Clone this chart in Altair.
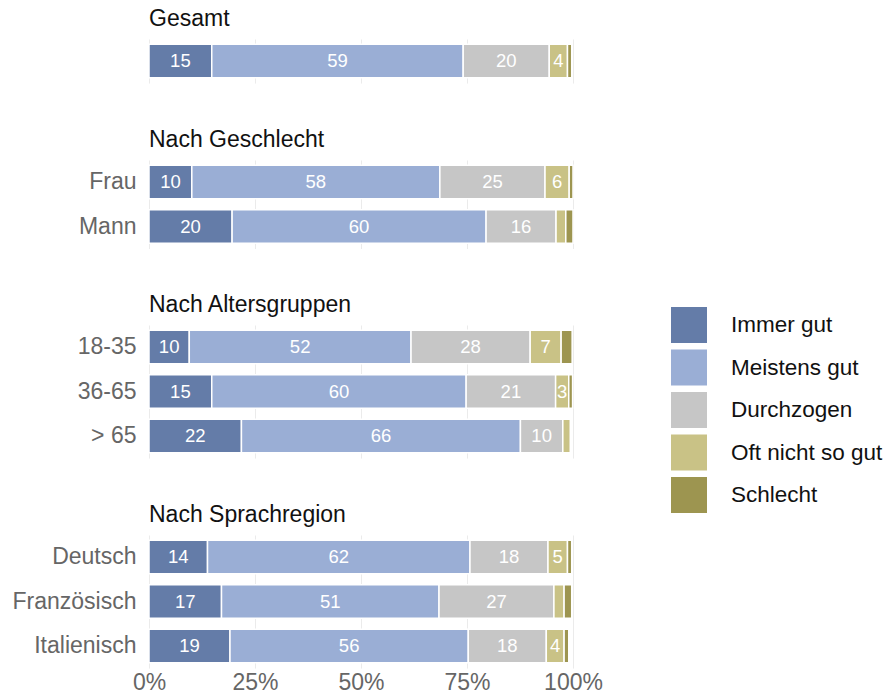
import altair as alt
import pandas as pd

FONT = "Liberation Sans"

responses = ["Immer gut", "Meistens gut", "Durchzogen", "Oft nicht so gut", "Schlecht"]
colors = ["#647ca8", "#9aaed5", "#c6c6c6", "#c9c286", "#9d9550"]

sections = ["Gesamt", "Nach Geschlecht", "Nach Altersgruppen", "Nach Sprachregion"]
section_rows = [
    ["Gesamt"],
    ["Frau", "Mann"],
    ["18-35", "36-65", "> 65"],
    ["Deutsch", "Französisch", "Italienisch"],
]

immer_gut = {"Gesamt": 14.8, "Frau": 10.1, "Mann": 19.6, "18-35": 9.5, "36-65": 14.8, "> 65": 21.8,
             "Deutsch": 13.8, "Französisch": 17.1, "Italienisch": 19.1}
meistens_gut = {"Gesamt": 59.3, "Frau": 58.5, "Mann": 59.9, "18-35": 52.3, "36-65": 60.0, "> 65": 65.8,
                "Deutsch": 61.9, "Französisch": 51.3, "Italienisch": 56.2}
durchzogen = {"Gesamt": 20.3, "Frau": 24.8, "Mann": 16.5, "18-35": 28.1, "36-65": 21.1, "> 65": 10.0,
              "Deutsch": 18.4, "Französisch": 27.1, "Italienisch": 18.4}
oft_nicht = {"Gesamt": 4.3, "Frau": 5.7, "Mann": 2.3, "18-35": 7.3, "36-65": 3.1, "> 65": 1.8,
             "Deutsch": 4.6, "Französisch": 2.4, "Italienisch": 4.2}
schlecht = {"Gesamt": 1.0, "Frau": 0.9, "Mann": 1.7, "18-35": 2.6, "36-65": 0.9, "> 65": 0.3,
            "Deutsch": 1.0, "Französisch": 1.8, "Italienisch": 1.1}

series = [immer_gut, meistens_gut, durchzogen, oft_nicht, schlecht]

records = []
for s, rows in zip(sections, section_rows):
    for r in rows:
        for i, (resp, d) in enumerate(zip(responses, series)):
            v = d[r]
            lbl = str(int(round(v))) if v >= 2.8 else ""
            records.append({"section": s, "row": r, "response": resp, "rank": i,
                            "value": v, "label": lbl})
df = pd.DataFrame(records)

color_scale = alt.Scale(domain=responses, range=colors)


def panel(sec, rows, last):
    d = df[df.section == sec]
    base = alt.Chart(d).transform_stack(
        stack="value", groupby=["row"], sort=[alt.SortField("rank")], as_=["x0", "x1"]
    ).transform_calculate(mid="(datum.x0 + datum.x1) / 2")

    if last:
        xaxis = alt.Axis(values=[0, 25, 50, 75, 100], labelExpr="datum.value + '%'",
                         labelFontSize=23, labelColor="#666666", labelFont=FONT,
                         labelFlush=False, labelOverlap=False,
                         ticks=False, domain=False, grid=True, gridColor="#ebebeb",
                         labelPadding=3, title=None)
    else:
        xaxis = alt.Axis(values=[0, 25, 50, 75, 100], labels=False, ticks=False, domain=False,
                         grid=True, gridColor="#ebebeb", title=None)

    xs = alt.Scale(domain=[0, 100], nice=False, zero=True)
    ys = alt.Scale(domain=rows, paddingInner=0.25, paddingOuter=0.12)
    yaxis = alt.Axis(title=None, ticks=False, domain=False, labelFontSize=23, labelColor="#666666",
                     labelFont=FONT, labelPadding=13, labels=(sec != "Gesamt"))

    bars = base.mark_bar(stroke="white", strokeWidth=1.5).encode(
        x=alt.X("x0:Q", scale=xs, axis=xaxis),
        x2="x1:Q",
        y=alt.Y("row:N", scale=ys, axis=yaxis, sort=rows),
        color=alt.Color("response:N", scale=color_scale,
                        legend=alt.Legend(title=None, symbolType="square", symbolSize=1296,
                                          symbolStrokeWidth=0, labelFontSize=22.5, labelFont=FONT,
                                          labelColor="#111111", rowPadding=6.5, labelOffset=24,
                                          orient="none", legendX=522, legendY=268)),
    )
    text = base.mark_text(color="white", fontSize=18.5, font=FONT).encode(
        x=alt.X("mid:Q", scale=xs),
        y=alt.Y("row:N", scale=ys, sort=rows),
        text="label:N",
    )
    return alt.layer(bars, text).properties(
        width=424,
        height=alt.Step(44.5),
        title=alt.TitleParams(sec, anchor="start", frame="group", fontSize=23, font=FONT,
                              fontWeight="normal", color="#111111", offset=8),
    )


panels = [panel(s, r, i == len(sections) - 1) for i, (s, r) in enumerate(zip(sections, section_rows))]

chart = alt.vconcat(*panels, spacing=45).configure_view(stroke=None).properties(
    padding={"left": 12, "top": 8, "right": 2, "bottom": 2}
)

chart.save("out.html", embed_options={"renderer": "svg", "actions": False})
